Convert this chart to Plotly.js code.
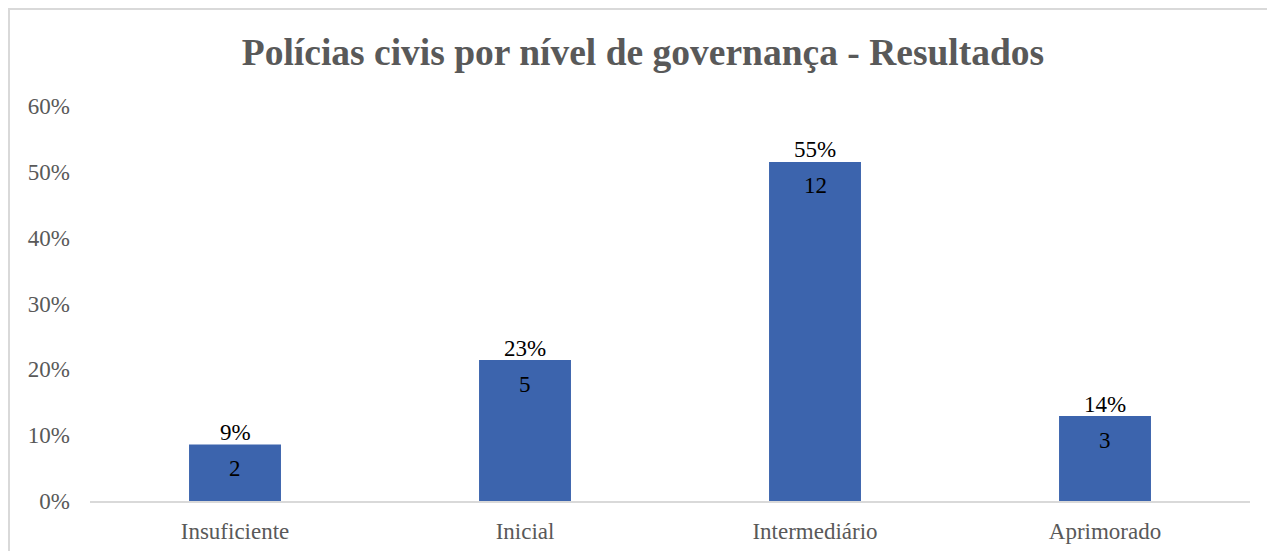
<!DOCTYPE html>
<html>
<head>
<meta charset="utf-8">
<script src="https://cdn.plot.ly/plotly-3.0.1.min.js"></script>
<style>
  html, body { margin: 0; padding: 0; background: #fff; overflow: hidden; }
  #chart { position: absolute; left: 0; top: 0; width: 1267px; height: 551px; }
  #frame { position: absolute; left: 8px; top: 8px; width: 1400px; height: 700px;
           border-left: 2px solid #d9d9d9; border-top: 2px solid #d9d9d9; pointer-events: none; }
</style>
</head>
<body>
<div id="chart"></div>
<div id="frame"></div>
<script>
const categories = ["Insuficiente", "Inicial", "Intermediário", "Aprimorado"];
const barValues = [0.086, 0.214, 0.515, 0.129];
const percentLabels = ["9%", "23%", "55%", "14%"];
const countLabels = ["2", "5", "12", "3"];
const yTickVals = [0, 0.1, 0.2, 0.3, 0.4, 0.5, 0.6];
const yTickText = ["0%", "10%", "20%", "30%", "40%", "50%", "60%"];

const serif = "Liberation Serif, Times New Roman, serif";

const trace = {
  type: "bar",
  x: categories,
  y: barValues,
  width: 0.317,
  marker: { color: "#3c64ad" },
  hoverinfo: "none"
};

const annotations = [];
categories.forEach((c, i) => {
  annotations.push({
    x: c, y: barValues[i], xref: "x", yref: "y",
    text: percentLabels[i], showarrow: false,
    yanchor: "middle", yshift: 12,
    font: { family: serif, size: 23, color: "#000000" }
  });
  annotations.push({
    x: c, y: barValues[i], xref: "x", yref: "y",
    text: countLabels[i], showarrow: false,
    yanchor: "middle", yshift: -24,
    font: { family: serif, size: 23, color: "#000000" }
  });
});

const layout = {
  width: 1267, height: 551,
  margin: { l: 90, r: 17, t: 106, b: 50 },
  paper_bgcolor: "#ffffff",
  plot_bgcolor: "#ffffff",
  showlegend: false,
  title: {
    text: "<b>Polícias civis por nível de governança - Resultados</b>",
    font: { family: serif, size: 37.5, color: "#595959" },
    x: 0.5075, xref: "container", xanchor: "center",
    y: 0.905, yref: "container", yanchor: "middle"
  },
  xaxis: {
    type: "category",
    showgrid: false,
    zeroline: false,
    showline: true, linecolor: "#d9d9d9", linewidth: 2,
    ticks: "",
    ticklabelstandoff: 8,
    tickfont: { family: serif, size: 23, color: "#595959" }
  },
  yaxis: {
    range: [0, 0.6],
    tickvals: yTickVals,
    ticktext: yTickText,
    showgrid: false,
    zeroline: false,
    showline: false,
    ticks: "",
    ticklabelstandoff: 19,
    tickfont: { family: serif, size: 23, color: "#595959" }
  },
  annotations: annotations
};

Plotly.newPlot("chart", [trace], layout, { displayModeBar: false, staticPlot: true });
</script>
</body>
</html>
